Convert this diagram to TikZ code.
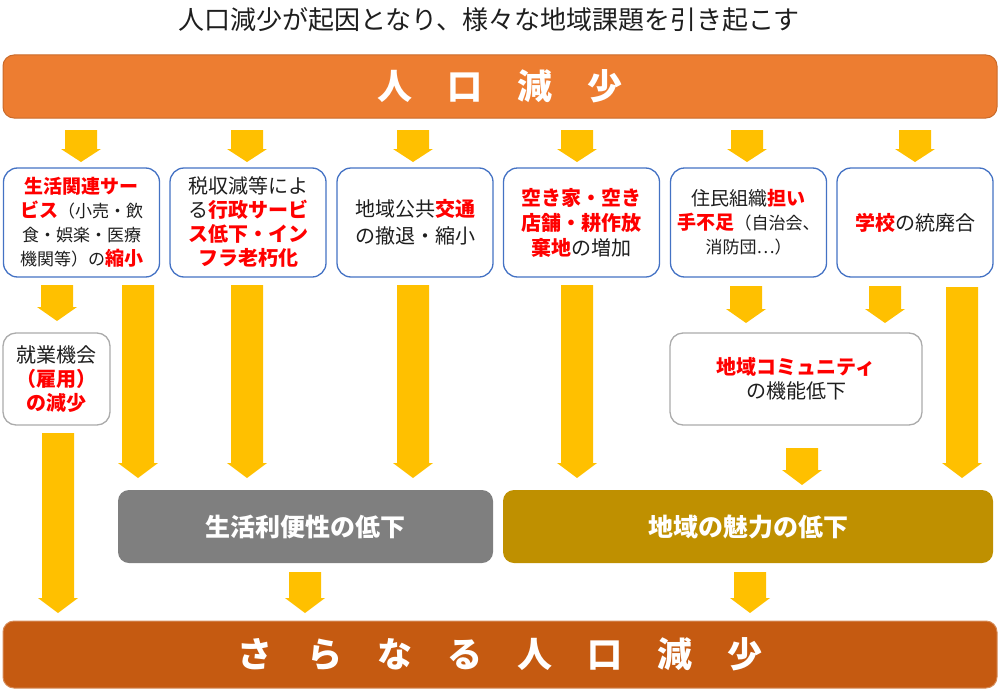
\documentclass[tikz,border=0pt]{standalone}
\usepackage{fontspec}
\setmainfont{Noto Sans CJK JP}
\definecolor{orangeA}{HTML}{ED7D31}
\definecolor{orangeB}{HTML}{C55A11}
\definecolor{goldarrow}{HTML}{FFC000}
\definecolor{blueline}{HTML}{4472C4}
\definecolor{grayline}{HTML}{ABABAB}
\definecolor{grayfill}{HTML}{7F7F7F}
\definecolor{olivefill}{HTML}{BF9000}
\definecolor{txt}{HTML}{1E1E1E}
\definecolor{redtxt}{HTML}{FF0000}
\newcommand\hl[1]{{\bfseries\color{redtxt}#1}}
\newcommand\sm{\fontsize{17}{24}\selectfont}
\newcommand\barrow[4]{\fill[goldarrow] (#1-16,#2) -- (#1+16,#2) -- (#1+16,#3) -- (#1+20,#3) -- (#1,#4) -- (#1-20,#3) -- (#1-16,#3) -- cycle;}
\begin{document}
\begin{tikzpicture}[x=1pt,y=-1pt,
  bluebox/.style={draw=blueline, line width=1.3pt, fill=white, rounded corners=14pt,
    minimum width=156pt, minimum height=109pt, inner sep=0pt, align=center, text=txt,
    font=\fontsize{19}{24}\selectfont},
  graybox/.style={draw=grayline, line width=1.3pt, fill=white, rounded corners=13pt,
    minimum height=92pt, inner sep=0pt, align=center, text=txt,
    font=\fontsize{20}{24}\selectfont},
  bar/.style={rounded corners=11pt, inner sep=0pt, text=white,
    font=\fontsize{35}{40}\selectfont\bfseries},
  midbox/.style={rounded corners=11pt, inner sep=0pt, minimum height=73pt, text=white,
    font=\fontsize{25}{30}\selectfont\bfseries}]
\useasboundingbox (0,0) rectangle (1000,693);

\node[text=txt, font=\fontsize{26}{30}\selectfont, inner sep=0pt] (title) at (489,20) {人口減少が起因となり、様々な地域課題を引き起こす};

\node[bar, fill=orangeA, draw=orangeA!85!black, line width=1pt, minimum width=994pt, minimum height=63pt] (top) at (500,86.5) {人　口　減　少};

\barrow{81}{130}{149}{162}
\barrow{247}{130}{149}{162}
\barrow{413}{130}{149}{162}
\barrow{577}{130}{149}{162}
\barrow{747}{130}{149}{162}
\barrow{915}{130}{149}{162}

\node[bluebox] (b1) at (81.5,222.5) {\hl{生活関連サー}\\\hl{ビス}{\sm（小売・飲}\\{\sm 食・娯楽・医療}\\{\sm 機関等）の}\hl{縮小}};
\node[bluebox, font=\fontsize{20}{24}\selectfont] (b2) at (248,222.5) {税収減等によ\\る\hl{行政サービ}\\\hl{ス低下・イン}\\\hl{フラ老朽化}};
\node[bluebox, font=\fontsize{20}{27}\selectfont] (b3) at (415,222.5) {地域公共\hl{交通}\\の撤退・縮小};
\node[bluebox, font=\fontsize{20}{25}\selectfont] (b4) at (581.5,222.5) {\hl{空き家・空き}\\\hl{店舗・耕作放}\\\hl{棄地}の増加};
\node[bluebox] (b5) at (748.5,222.5) {住民組織\hl{担い}\\\hl{手不足}{\sm（自治会、}\\{\sm 消防団…）}};
\node[bluebox, font=\fontsize{20}{24}\selectfont] (b6) at (915,222.5) {\hl{学校}の統廃合};

\barrow{57}{285}{307}{321}
\barrow{138}{285}{463}{478}
\barrow{247}{285}{463}{478}
\barrow{413}{285}{463}{478}
\barrow{577}{285}{463}{478}
\barrow{746}{286}{309}{323}
\barrow{885}{286}{309}{323}
\barrow{962}{287}{463}{478}

\node[graybox, minimum width=107pt] (job) at (56.5,379) {就業機会\\\hl{（雇用）}\\\hl{の減少}};
\node[graybox, minimum width=252pt] (comm) at (796,379) {\hl{地域コミュニティ}\\の機能低下};

\barrow{802}{448}{470}{485}
\barrow{58}{433}{598}{613}

\node[midbox, fill=grayfill, minimum width=375pt] (life) at (305.5,526.5) {生活利便性の低下};
\node[midbox, fill=olivefill, minimum width=490pt] (charm) at (748,526.5) {地域の魅力の低下};

\barrow{305}{572}{598}{613}
\barrow{750}{572}{598}{613}

\node[bar, fill=orangeB, draw=orangeB!70!white, line width=1pt, minimum width=994pt, minimum height=67pt] (bot) at (500,654.5) {さ　ら　な　る　人　口　減　少};
\end{tikzpicture}
\end{document}
